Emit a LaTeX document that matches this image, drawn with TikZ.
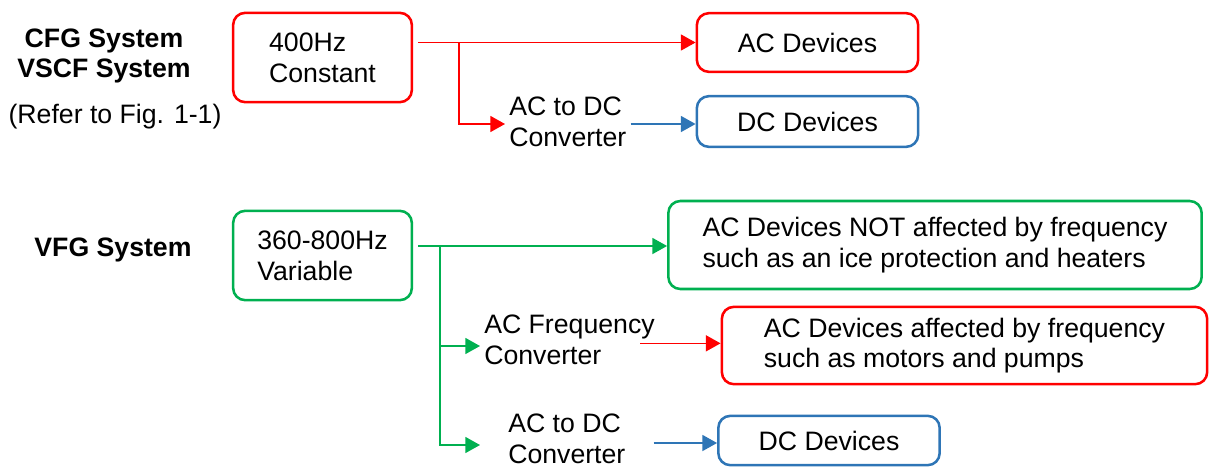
\documentclass[tikz,border=0pt]{standalone}
\usepackage{fontspec}
\setmainfont{Liberation Sans}
\usetikzlibrary{arrows.meta}
\definecolor{lnred}{RGB}{255,0,0}
\definecolor{lngreen}{RGB}{0,176,80}
\definecolor{lnblue}{RGB}{46,117,182}

\begin{document}
\begin{tikzpicture}[x=0.75pt,y=-0.75pt,
	every node/.style={font=\fontsize{20}{23}\selectfont},
	head/.style={font=\fontsize{20}{23}\selectfont\bfseries,align=center},
	unit/.style={draw,rounded corners=9pt,line width=1.9pt,align=left,inner sep=0pt},
	feed/.style={line width=1.1pt,-{Triangle[length=11pt,width=12pt]}},
	conv/.style={align=left,anchor=west,inner ysep=0pt,inner xsep=3pt}]
	
	\useasboundingbox (0,0) rectangle (1210,468); % page size
	
	% system names on the left
	\node[head] (cfg) at (104,56) {CFG System\\VSCF System};
	\node (refer) at (115,117) {(Refer to Fig. 1-1)};
	\node[head] (vfg) at (113,250) {VFG System};
	
	% constant frequency branch
	\node[unit,lnred,minimum width=134pt,minimum height=67pt] (src1) at (322.5,57.5)
		{\color{black}400Hz\\\color{black}Constant};
	\node[unit,lnred,minimum width=166pt,minimum height=44pt] (acdev1) at (807.5,42.5)
		{\color{black}AC Devices};
	\node[conv] (conv1) at (505,122) {AC to DC\\Converter};
	\node[unit,lnblue,minimum width=166pt,minimum height=38pt] (dcdev1) at (807.5,121.5)
		{\color{black}DC Devices};
	
	\coordinate (tap1) at (459,42.5);
	\draw[feed,lnred,shorten <=4pt] (src1.east |- acdev1.west) -- (acdev1.west);
	\draw[feed,lnred] (tap1) |- ([yshift=-1.5pt]conv1.west);
	\draw[feed,lnblue] ([yshift=-1.5pt]conv1.east) -- ([yshift=-1.5pt]conv1.east -| dcdev1.west);
	
	% variable frequency branch
	\node[unit,lngreen,minimum width=134pt,minimum height=67pt] (src2) at (322.5,255.5)
		{\color{black}360-800Hz\\\color{black}Variable};
	\node[unit,lngreen,minimum width=400pt,minimum height=66pt] (acnot) at (935,245)
		{\color{black}AC Devices NOT affected by frequency\\\color{black}such as an ice protection and heaters};
	\node[conv] (freqconv) at (480,340) {AC Frequency\\Converter};
	\node[unit,lnred,minimum width=364pt,minimum height=58pt] (acaff) at (964.5,345.5)
		{\color{black}AC Devices affected by frequency\\\color{black}such as motors and pumps};
	\node[conv,inner xsep=21pt] (conv2) at (480,439) {AC to DC\\Converter};
	\node[unit,lnblue,minimum width=166pt,minimum height=37pt] (dcdev2) at (829,440.5)
		{\color{black}DC Devices};
	
	\coordinate (tap2) at (440,246);
	\draw[feed,lngreen,shorten <=4pt] (src2.east |- tap2) -- (tap2 -| acnot.west);
	\draw[feed,lngreen] (tap2) |- ([yshift=-4.5pt]freqconv.west);
	\draw[feed,lngreen] (tap2) |- ([yshift=-4.5pt]conv2.west);
	\draw[feed,lnred] ([xshift=-14pt,yshift=-2.5pt]freqconv.east) -- ([yshift=-2.5pt]freqconv.east -| acaff.west);
	\draw[feed,lnblue] ([yshift=-3pt]conv2.east) -- ([yshift=-3pt]conv2.east -| dcdev2.west);
	
\end{tikzpicture}
\end{document}
